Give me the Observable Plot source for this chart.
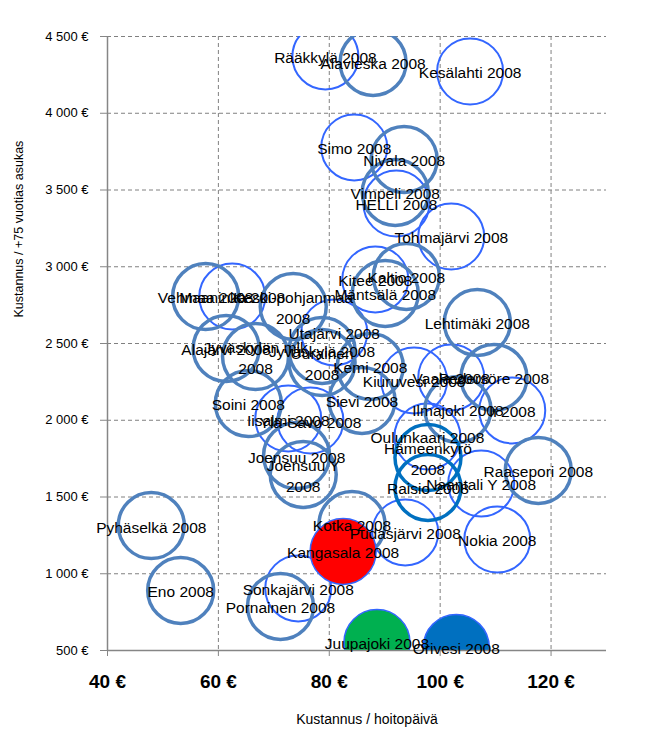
<!DOCTYPE html>
<html><head><meta charset="utf-8">
<script src="https://cdn.jsdelivr.net/npm/d3@7"></script>
<script src="https://cdn.jsdelivr.net/npm/@observablehq/plot@0.6"></script>
<style>body{margin:0;background:#fff}</style>
</head><body><div id="chart"></div>
<script>
// Municipality labels
const names = [
  "Rääkkylä 2008","Alavieska 2008","Kesälahti 2008","Simo 2008","Nivala 2008","Vimpeli 2008","HELLI 2008",
  "Tohmajärvi 2008","Kitee 2008","Kaltio 2008","Mäntsälä 2008","Lehtimäki 2008","Vehmaa 2008","Maaninka 2008",
  "Keski-pohjanmaa\n2008","Alajärvi 2008","Jyväskylän mlk\n2008","Jyväskylä 2008","Uurainen\n2008","Utajärvi 2008",
  "Kemi 2008","Kiuruvesi 2008","Vaala 2008","Pedersöre 2008","Ilmajoki 2008","Ii 2008","Oulunkaari 2008",
  "Hämeenkyrö\n2008","Raisio 2008","Naantali Y 2008","Raasepori 2008","Nokia 2008","Pudasjärvi 2008","Kotka 2008",
  "Kangasala 2008","Juupajoki 2008","Orivesi 2008","Sonkajärvi 2008","Pornainen 2008","Pyhäselkä 2008","Eno 2008",
  "Joensuu 2008","Joensuu Y\n2008","Soini 2008","Iisalmi 2008","Ylä-Savo 2008","Sievi 2008"
];
// Kustannus / hoitopäivä (€)
const costPerDay = [
  79.3, 87.9, 105.4, 84.5, 93.5, 91.9, 92.1,
  102.0, 88.3, 93.9, 90.1, 106.7, 57.7, 62.5,
  73.5, 61.4, 66.7, 78.7, 78.7, 80.9,
  87.4, 95.3, 102.0, 109.7, 103.2, 113.0, 97.7,
  97.8, 97.8, 107.4, 117.7, 110.3, 93.7, 84.1,
  82.5, 88.6, 102.9, 74.4, 71.2, 47.9, 53.2,
  74.1, 75.3, 65.4, 72.6, 76.6, 85.9
];
// Kustannus / +75 vuotias asukas (€)
const costPerResident = [
  4370, 4331, 4272, 3777, 3699, 3484, 3412,
  3197, 2917, 2937, 2826, 2637, 2806, 2806,
  2741, 2468, 2415, 2455, 2376, 2572,
  2350, 2259, 2279, 2279, 2070, 2064, 1894,
  1757, 1562, 1588, 1673, 1223, 1269, 1321,
  1145, 552, 520, 904, 787, 1314, 891,
  1770, 1647, 2109, 2011, 1998, 2129
];
// Series each bubble belongs to
const series = [
  "A","B","A","A","B","B","A",
  "A","A","B","B","B","B","A",
  "B","B","B","B","B","A",
  "B","A","A","B","B","A","A",
  "C","C","A","B","A","A","B",
  "Kangasala","Juupajoki","Orivesi","A","B","B","B",
  "B","B","B","A","A","B"
];
const yTicks = [500,1000,1500,2000,2500,3000,3500,4000,4500];
const xTicks = [40,60,80,100,120];
const xTitle = "Kustannus / hoitopäivä";
const yTitle = "Kustannus / +75 vuotias asukas";

const data = names.map((n,i)=>({name:n, x:costPerDay[i], y:costPerResident[i], s:series[i]}));
const look = {
  A:{stroke:"#3366ff", fill:"none", sw:2},
  B:{stroke:"#4f81bd", fill:"none", sw:3.5},
  C:{stroke:"#0070c0", fill:"none", sw:3.5},
  Kangasala:{stroke:"#3366ff", fill:"#ff0000", sw:1.5},
  Juupajoki:{stroke:"#3366ff", fill:"#00b050", sw:1.5},
  Orivesi:{stroke:"#3366ff", fill:"#0070c0", sw:1.5}
};
const fmt = d => d3.format(",")(d).replace(/,/g," ") + " €";
const circleMarks = Object.keys(look).map(k => Plot.dot(data.filter(d=>d.s===k), {
  x:"x", y:"y", r:33, stroke:look[k].stroke, fill:look[k].fill, strokeWidth:look[k].sw, clip:true
}));

const chart = Plot.plot({
  width:655, height:752,
  marginTop:36, marginBottom:102, marginLeft:107, marginRight:49,
  style:{fontFamily:"'Liberation Sans', Arial, sans-serif", background:"#fff", color:"#000"},
  x:{domain:[40,130]},
  y:{domain:[500,4500]},
  marks:[
    Plot.gridY(yTicks.slice(1), {stroke:"#808080", strokeOpacity:1, strokeDasharray:"4,3"}),
    Plot.gridX(xTicks.slice(1), {stroke:"#808080", strokeOpacity:1, strokeDasharray:"4,3"}),
    ...circleMarks,
    Plot.ruleY([500], {stroke:"#868686", strokeWidth:1.5}),
    Plot.ruleX([40], {stroke:"#868686", strokeWidth:1.5}),
    Plot.axisY(yTicks, {tickFormat:fmt, tickSize:7, tickPadding:12, stroke:"#868686", fontSize:13, label:null}),
    Plot.axisX(xTicks, {tickFormat:d=>d+" €", tickSize:6, tickPadding:18, stroke:"#868686", fontSize:19, fontWeight:"bold", fontFamily:"'Liberation Sans Narrow', 'Arial Narrow', sans-serif", label:null}),
    Plot.text(data, {x:"x", y:"y", text:"name", fontSize:15.5, fill:"#000", lineHeight:1.4}),
    Plot.text([xTitle], {frameAnchor:"bottom", dx:10, dy:73, fontSize:14, fill:"#000"}),
    Plot.text([yTitle], {frameAnchor:"left", rotate:-90, dx:-89, dy:-26, fontSize:12.5, fill:"#000"})
  ]
});
document.getElementById("chart").appendChild(chart);
</script>
</body></html>
